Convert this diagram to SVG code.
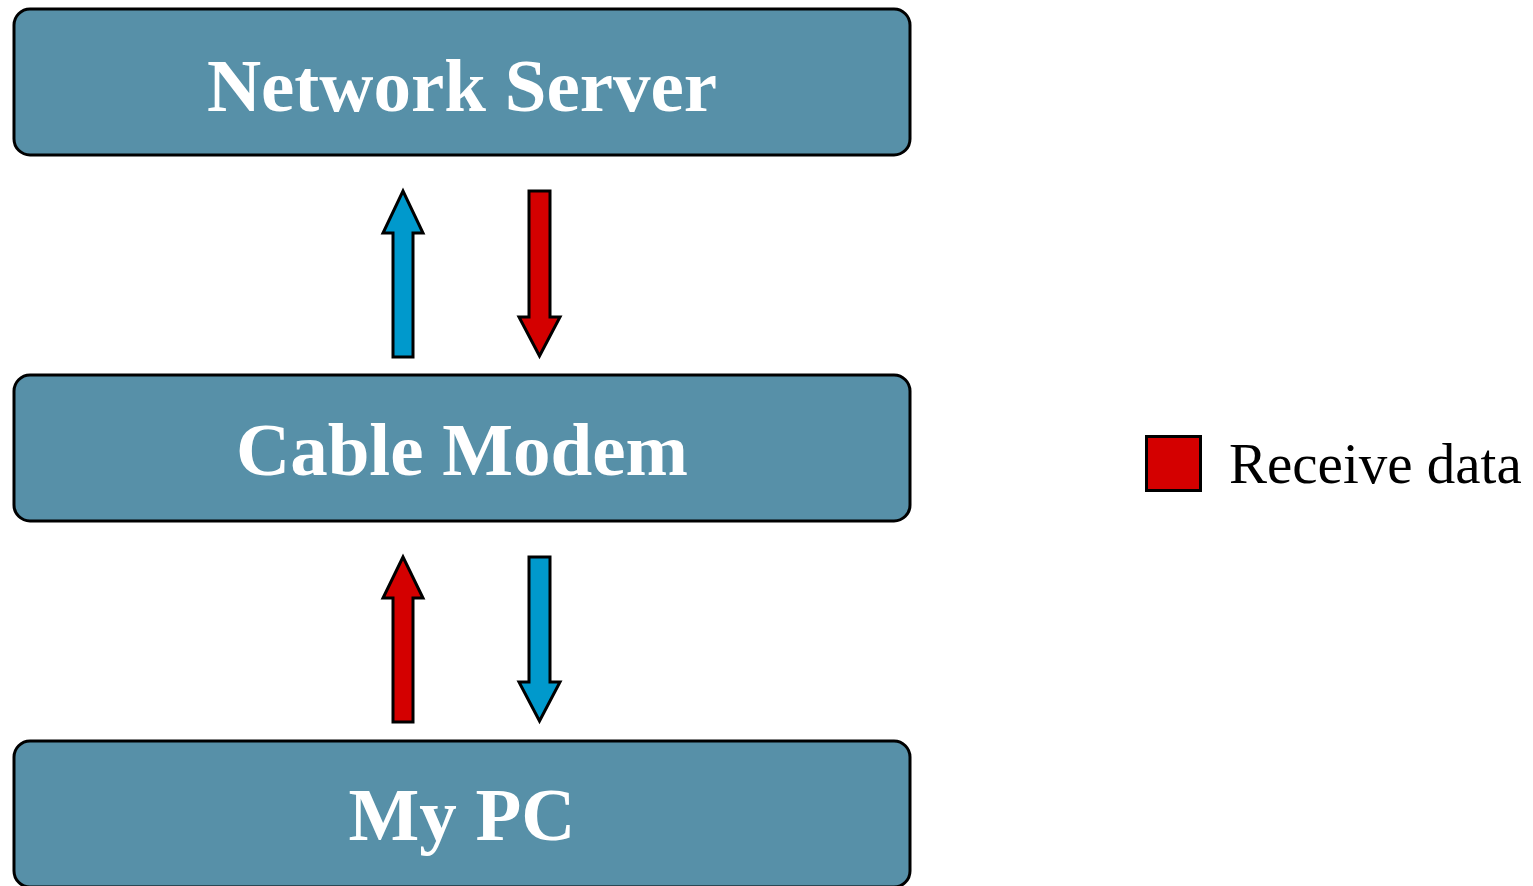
<svg xmlns="http://www.w3.org/2000/svg" width="1533" height="886" viewBox="0 0 1533 886">
<style>
.box{fill:#5790A8;stroke:#000;stroke-width:3}
.lbl{font-family:"Liberation Serif","Times New Roman",serif;font-weight:bold;font-size:75px;fill:#fff;text-anchor:middle}
.arr{stroke:#000;stroke-width:3;stroke-linejoin:miter}
.blue{fill:#0099CC}
.red{fill:#D40000}
.leg{font-family:"Liberation Serif","Times New Roman",serif;font-size:57px;fill:#000}
</style>
<rect width="1533" height="886" fill="#fff"/>
<g id="network-server">
<rect class="box" x="14" y="9" width="896" height="146" rx="16" ry="16"/>
<text class="lbl" x="462" y="111">Network Server</text>
</g>
<g id="cable-modem">
<rect class="box" x="14" y="375" width="896" height="146" rx="16" ry="16"/>
<text class="lbl" x="462" y="475">Cable Modem</text>
</g>
<g id="my-pc">
<rect class="box" x="14" y="741" width="896" height="146" rx="16" ry="16"/>
<text class="lbl" x="462" y="840">My PC</text>
</g>
<g id="connectors">
<polygon class="arr blue" points="393,357 413,357 413,233 423,233 403,191 383,233 393,233"/>
<polygon class="arr red" points="529,191 550,191 550,317 560,317 539.5,356 519,317 529,317"/>
<polygon class="arr red" points="393,722 413,722 413,598 423,598 403,557 383,598 393,598"/>
<polygon class="arr blue" points="529,557 550,557 550,682 560,682 539.5,721 519,682 529,682"/>
</g>
<g id="legend">
<rect x="1146.5" y="436.5" width="54" height="54" fill="#D40000" stroke="#000" stroke-width="3"/>
<text class="leg" x="1229" y="483">Receive data</text>
</g>
</svg>
